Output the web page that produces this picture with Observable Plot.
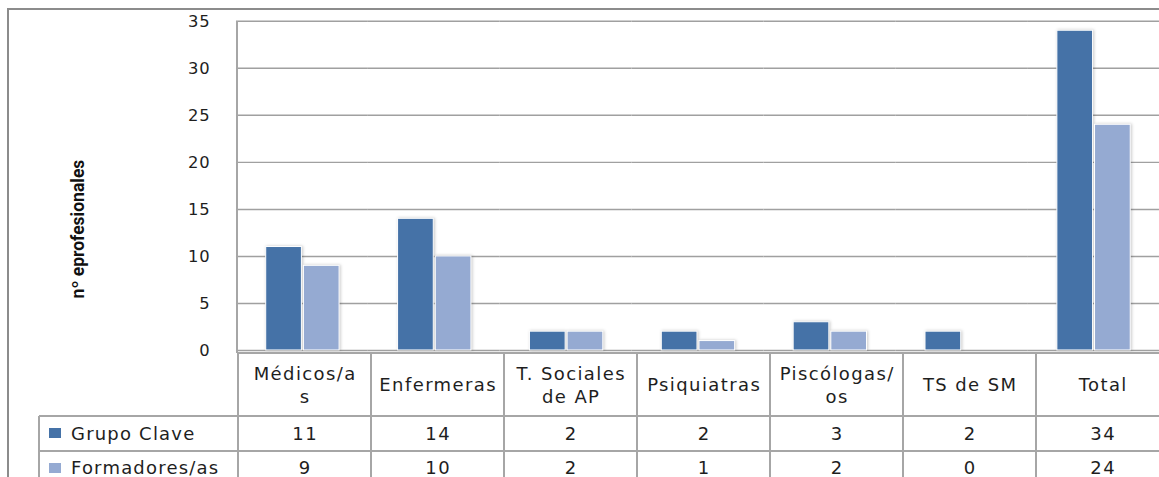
<!DOCTYPE html>
<html><head><meta charset="utf-8">
<script src="https://cdn.jsdelivr.net/npm/d3@7"></script>
<script src="https://cdn.jsdelivr.net/npm/@observablehq/plot@0.6"></script>
<style>
html,body{margin:0;padding:0;background:#fff;}
#wrap{position:relative;width:1159px;height:477px;overflow:hidden;background:#fff;font-family:"DejaVu Sans",sans-serif;}
#wrap svg{position:absolute;left:0;top:0;}
.outer{position:absolute;left:7px;top:8px;width:1200px;height:600px;border-left:2px solid #8c8c8c;border-top:2px solid #8c8c8c;}
.cell{position:absolute;box-sizing:border-box;display:flex;align-items:center;justify-content:center;text-align:center;color:#1e1e1e;font-size:18px;letter-spacing:1.4px;padding-left:1.4px;line-height:23px;white-space:nowrap;}
.leg{justify-content:flex-start;padding-left:10px;letter-spacing:1.2px;}
.sw{display:inline-block;width:12px;height:10px;margin-right:10px;}
.ln{position:absolute;background:#a6a6a6;}
.ytitle{position:absolute;left:78px;top:229px;transform:translate(-50%,-50%) rotate(-90deg);font-family:Roboto,sans-serif;font-weight:bold;font-size:17.5px;color:#111;white-space:nowrap;}
g[aria-label="y-axis tick label"] text{letter-spacing:1px;}
g[aria-label="bar"] rect{filter:drop-shadow(1px 0px 1.5px rgba(0,0,0,0.22));}
</style></head><body><div id="wrap"></div><script>
const categories = ["Médicos/as","Enfermeras","T. Sociales de AP","Psiquiatras","Piscólogas/os","TS de SM","Total"];
const headerLines = [["Médicos/a","s"],["Enfermeras"],["T. Sociales","de AP"],["Psiquiatras"],["Piscólogas/","os"],["TS de SM"],["Total"]];
const series = ["Grupo Clave","Formadores/as"];
const grupoClave = [11,14,2,2,3,2,34];
const formadores = [9,10,2,1,2,0,24];
const yTicks = [0,5,10,15,20,25,30,35];
const colors = ["#4572a7","#95aad2"];
const yTitle = "nº eprofesionales";

const rows = categories.flatMap((c,i)=>[
  {cat:c, serie:series[0], value:grupoClave[i]},
  {cat:c, serie:series[1], value:formadores[i]}
]);

const W = 1169, H = 477;
const plot = Plot.plot({
  width: W, height: H,
  marginLeft: 237, marginRight: 0, marginTop: 21, marginBottom: 124,
  style: {fontFamily: "DejaVu Sans", fontSize: "16px", color: "#1e1e1e", background: "transparent", overflow: "visible"},
  fx: {domain: categories, padding: 0, axis: null},
  x: {domain: series, paddingInner: 0.065, paddingOuter: 0.76, axis: null},
  y: {domain: [0, 35]},
  color: {domain: series, range: colors},
  marks: [
    Plot.gridY(yTicks, {stroke: "#a0a0a0", strokeOpacity: 1, strokeWidth: 1.5}),
    Plot.axisY(yTicks, {tickSize: 0, tickPadding: 26, fontSize: 16.5, label: null}),
    Plot.barY(rows, {fx: "cat", x: "serie", y: "value", fill: "serie", stroke: "white", strokeWidth: 1, filter: d => d.value > 0})
  ]
});

const wrap = document.getElementById("wrap");
wrap.appendChild(plot);
const outer = document.createElement("div"); outer.className = "outer"; wrap.appendChild(outer);
const tt = document.createElement("div"); tt.className = "ytitle"; tt.textContent = yTitle; wrap.appendChild(tt);

const fx = plot.scale("fx"), y = plot.scale("y");
const x0 = fx.range[0], bw = fx.bandwidth;
const top0 = y.apply(0), yTop = y.apply(35);
const headerH = 63, rowH = 34.5, legLeft = 39;

function line(l, t, w, h){ const d = document.createElement("div"); d.className = "ln"; Object.assign(d.style, {left: l+"px", top: t+"px", width: w+"px", height: h+"px"}); wrap.appendChild(d); }
function cell(l, t, w, h, html, cls){ const d = document.createElement("div"); d.className = "cell" + (cls ? " " + cls : ""); Object.assign(d.style, {left: l+"px", top: t+"px", width: w+"px", height: h+"px"}); d.innerHTML = html; wrap.appendChild(d); }

// y axis line
line(x0 - 1, yTop, 2, top0 - yTop);
// horizontal table lines
line(x0, top0 - 1, W - x0, 2);
line(legLeft, top0 + headerH - 1, W - legLeft, 2);
line(legLeft, top0 + headerH + rowH - 1, W - legLeft, 2);
// vertical table lines
line(legLeft - 1, top0 + headerH, 2, H);
categories.forEach((c, i) => { line(fx.apply(c) - 1, top0, 2, H); });
line(fx.apply(categories[categories.length-1]) + bw - 1, top0, 2, H);

// header + values
const vals = [grupoClave, formadores];
categories.forEach((c, i) => {
  const l = fx.apply(c);
  cell(l, top0, bw, headerH, headerLines[i].join("<br>"));
  vals.forEach((arr, r) => cell(l, top0 + headerH + r*rowH, bw, rowH, String(arr[i])));
});
series.forEach((s, r) => {
  cell(legLeft, top0 + headerH + r*rowH, x0 - legLeft, rowH, `<span class="sw" style="background:${colors[r]}"></span>${s}`, "leg");
});
</script></body></html>
